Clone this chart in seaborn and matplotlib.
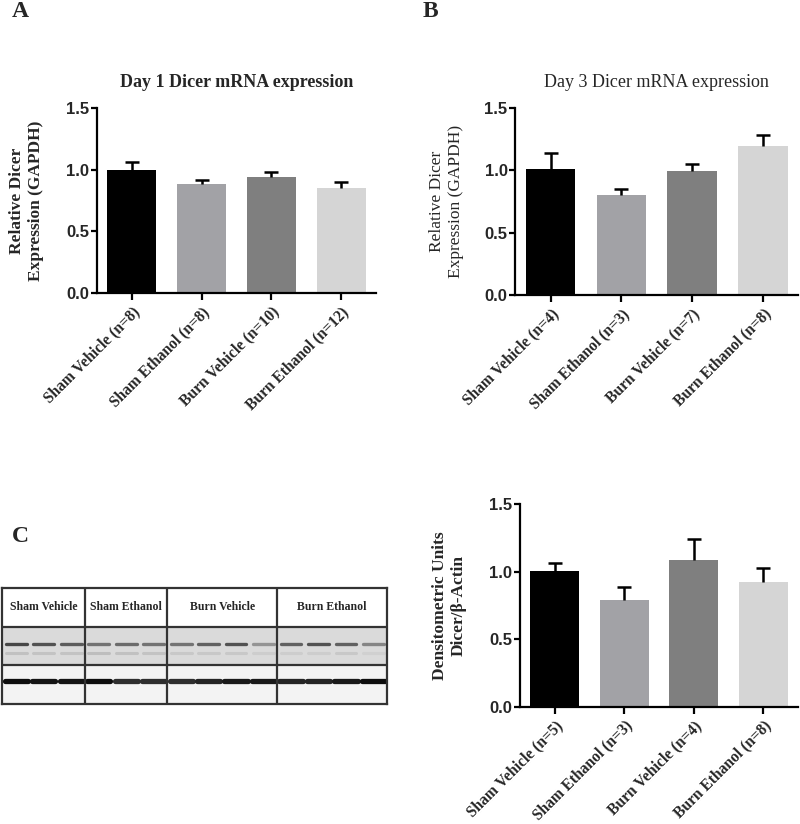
import numpy as np
import matplotlib
matplotlib.use("Agg")
import matplotlib.pyplot as plt
import seaborn as sns

# --- data ---
groups = ["Sham Vehicle", "Sham Ethanol", "Burn Vehicle", "Burn Ethanol"]
bar_colors = ["#000000", "#a2a2a6", "#7f7f7f", "#d5d5d5"]

day1_n = [8, 8, 10, 12]
day1_mean = [1.00, 0.88, 0.94, 0.855]
day1_sem = [0.06, 0.04, 0.045, 0.048]

day3_n = [4, 3, 7, 8]
day3_mean = [1.01, 0.80, 0.99, 1.195]
day3_sem = [0.125, 0.045, 0.06, 0.085]

wb_n = [5, 3, 4, 8]
wb_mean = [1.005, 0.79, 1.09, 0.925]
wb_sem = [0.06, 0.10, 0.155, 0.10]

# western blot: lanes per group and band darkness (0 = white, 1 = black)
lanes_per_group = [3, 3, 4, 4]
dicer_band = [0.72, 0.68, 0.64, 0.55, 0.58, 0.55, 0.55, 0.62, 0.68, 0.42, 0.62, 0.68, 0.62, 0.48]
dicer_faint = [0.10, 0.09, 0.09, 0.11, 0.10, 0.09, 0.07, 0.07, 0.07, 0.05, 0.05, 0.05, 0.07, 0.04]
actin_band = [0.95, 0.92, 0.92, 0.95, 0.82, 0.82, 0.82, 0.86, 0.9, 0.9, 0.86, 0.86, 0.9, 0.95]

sns.set_style("ticks")
plt.rcParams["font.family"] = ["Liberation Serif", "DejaVu Serif"]
plt.rcParams["axes.linewidth"] = 1.6

fig = plt.figure(figsize=(8, 8.24), dpi=100)


def bar_panel(rect, n, mean, sem, ylabel, lab_x, title=None, bold=True):
    ax = fig.add_axes(rect)
    labels = [f"{g} (n={k})" for g, k in zip(groups, n)]
    sns.barplot(x=labels, y=mean, hue=labels, palette=bar_colors, legend=False,
                errorbar=None, width=0.7, saturation=1, linewidth=0, ax=ax)
    eb = ax.errorbar(np.arange(len(mean)), mean, yerr=[np.zeros(len(sem)), sem],
                     fmt="none", ecolor="black", elinewidth=1.8, capsize=5, capthick=1.8)
    eb[1][0].set_visible(False)
    ax.set_ylim(0, 1.5)
    ax.set_xlim(-0.5, 3.5)
    ax.set_yticks([0.0, 0.5, 1.0, 1.5])
    ax.set_yticklabels(["0.0", "0.5", "1.0", "1.5"], fontfamily="Liberation Sans",
                       fontweight="bold", fontsize=12)
    ax.set_xticks(range(4))
    ax.set_xticklabels(labels, rotation=45, ha="right", rotation_mode="anchor",
                       fontsize=11.2, fontweight="bold")
    ax.tick_params(axis="y", length=4, width=1.6, pad=1.5, color="black")
    ax.tick_params(axis="x", length=5, width=1.6, pad=3, color="black")
    sns.despine(ax=ax)
    ax.spines["left"].set_color("black")
    ax.spines["bottom"].set_color("black")
    ax.set_xlabel("")
    ax.set_ylabel(ylabel, fontsize=12.5, fontweight="bold" if bold else "normal",
                  linespacing=1.25)
    ax.yaxis.set_label_coords(lab_x, 0.5)
    if title:
        ax.set_title(title, fontsize=13, fontweight="bold" if bold else "normal", pad=15)
    return ax


bar_panel([0.121, 0.6444, 0.349, 0.2245], day1_n, day1_mean, day1_sem,
          "Relative Dicer\nExpression (GAPDH)", -0.19,
          "Day 1 Dicer mRNA expression", bold=True)
bar_panel([0.644, 0.642, 0.354, 0.2273], day3_n, day3_mean, day3_sem,
          "Relative Dicer\nExpression (GAPDH)", -0.18,
          "Day 3 Dicer mRNA expression", bold=False)
bar_panel([0.65, 0.1424, 0.3475, 0.2456], wb_n, wb_mean, wb_sem,
          "Densitometric Units\nDicer/\u03b2-Actin", -0.19, bold=True)

# --- western blot panel ---
axb = fig.add_axes([0.003, 0.1456, 0.481, 0.1408])
n_lanes = sum(lanes_per_group)
axb.set_xlim(0, n_lanes)
axb.set_ylim(0, 3)
axb.axhspan(1, 2, color="#dadada", zorder=0)
axb.axhspan(0, 1, color="#f3f3f3", zorder=0)
for i in range(n_lanes):
    g = dicer_faint[i]
    axb.plot([i + 0.12, i + 0.88], [1.32, 1.32], color=str(0.855 - g), lw=2.2,
             solid_capstyle="round", zorder=1)
    d = dicer_band[i]
    axb.plot([i + 0.12, i + 0.88], [1.55, 1.55], color=str(1 - d), lw=2.4,
             solid_capstyle="round", zorder=2)
    a = actin_band[i]
    axb.plot([i + 0.08, i + 0.92], [0.6, 0.6], color=str(1 - a), lw=3.8,
             solid_capstyle="round", zorder=2)
edges = np.cumsum([0] + lanes_per_group)
for e in edges[1:-1]:
    axb.axvline(e, color="#333333", lw=1.6, zorder=3)
axb.axhline(1, color="#333333", lw=1.6, zorder=3)
axb.axhline(2, color="#333333", lw=1.6, zorder=3)
for g, lo, hi in zip(groups, edges[:-1], edges[1:]):
    axb.text((lo + hi) / 2, 2.5, g, ha="center", va="center", fontsize=8.5,
             fontweight="bold")
axb.set_xticks([])
axb.set_yticks([])
for s in axb.spines.values():
    s.set_visible(True)
    s.set_color("#333333")
    s.set_linewidth(1.6)

# panel letters
fig.text(0.015, 0.986, "A", fontsize=17, fontweight="bold", va="center")
fig.text(0.528, 0.986, "B", fontsize=17, fontweight="bold", va="center")
fig.text(0.015, 0.349, "C", fontsize=17, fontweight="bold", va="center")

fig.savefig("out.png", dpi=100)
